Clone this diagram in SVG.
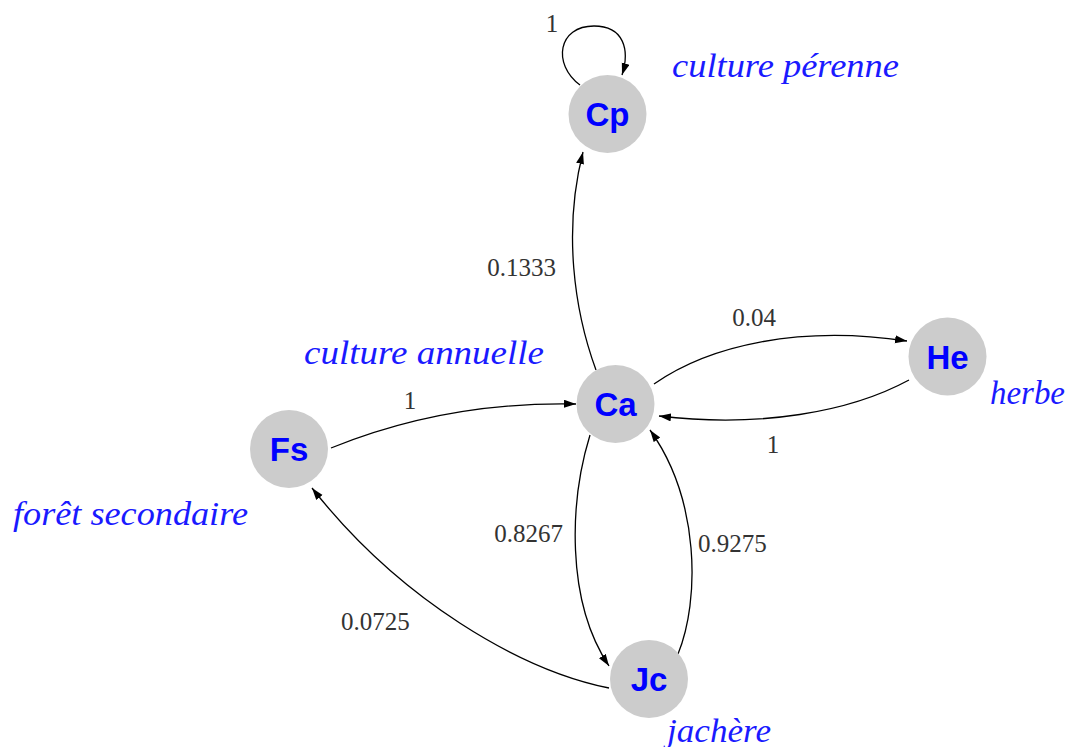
<svg xmlns="http://www.w3.org/2000/svg" width="1068" height="747" viewBox="0 0 1068 747">
<style>
.node circle{fill:#cccccc;stroke:none}
.node text{font-family:"Liberation Sans",Arial,sans-serif;font-weight:bold;font-size:33px;fill:#0000ff;text-anchor:middle}
.edge path{fill:none;stroke:#000;stroke-width:1.3}
.elabel{font-family:"Liberation Serif","Times New Roman",serif;font-size:25px;fill:#333333}
.name{font-family:"Liberation Serif","Times New Roman",serif;font-style:italic;font-size:34px;fill:#1a1aff}
</style>
<defs>
<marker id="arr" markerUnits="userSpaceOnUse" markerWidth="13" markerHeight="9" refX="12" refY="4" orient="auto">
<path d="M0,0 L12,4 L0,8 z" fill="#000"/>
</marker>
</defs>
<rect width="1068" height="747" fill="#ffffff"/>
<g id="connectors" class="edge">
<path d="M580,85 C552,64 558,26 594,26 C624,26 630,50 622,75" marker-end="url(#arr)"/>
<path d="M596,370 C574,310 563,230 583,152" marker-end="url(#arr)"/>
<path d="M331,448 C400,420 480,402 576,404" marker-end="url(#arr)"/>
<path d="M654,384 C710,345 800,325 907,341" marker-end="url(#arr)"/>
<path d="M909,380 C850,412 760,428 659,416" marker-end="url(#arr)"/>
<path d="M590,435 C570,500 565,600 609,666" marker-end="url(#arr)"/>
<path d="M678,654 C700,600 700,500 650,430" marker-end="url(#arr)"/>
<path d="M609,688 C520,670 400,600 312,488" marker-end="url(#arr)"/>
</g>
<g id="edge-labels">
<text class="elabel" x="552" y="32" text-anchor="middle">1</text>
<text class="elabel" x="556" y="276" text-anchor="end">0.1333</text>
<text class="elabel" x="754" y="326" text-anchor="middle">0.04</text>
<text class="elabel" x="773" y="453" text-anchor="middle">1</text>
<text class="elabel" x="410" y="409" text-anchor="middle">1</text>
<text class="elabel" x="563" y="542" text-anchor="end">0.8267</text>
<text class="elabel" x="698" y="552">0.9275</text>
<text class="elabel" x="341" y="630">0.0725</text>
</g>
<g id="node-Cp" class="node"><circle cx="607.5" cy="114" r="39"/><text x="607.5" y="126">Cp</text></g>
<g id="node-Ca" class="node"><circle cx="615.5" cy="404" r="39"/><text x="615.5" y="416">Ca</text></g>
<g id="node-He" class="node"><circle cx="947.5" cy="356.5" r="39"/><text x="947.5" y="368.5">He</text></g>
<g id="node-Fs" class="node"><circle cx="289" cy="449" r="39"/><text x="289" y="461">Fs</text></g>
<g id="node-Jc" class="node"><circle cx="649" cy="679" r="39"/><text x="649" y="691">Jc</text></g>
<g id="names">
<text class="name" x="672" y="77" textLength="227" lengthAdjust="spacingAndGlyphs">culture pérenne</text>
<text class="name" x="304" y="364" textLength="240" lengthAdjust="spacingAndGlyphs">culture annuelle</text>
<text class="name" x="13" y="525" textLength="235" lengthAdjust="spacingAndGlyphs">forêt secondaire</text>
<text class="name" x="990" y="404" textLength="75" lengthAdjust="spacingAndGlyphs">herbe</text>
<text class="name" x="667" y="742" textLength="104" lengthAdjust="spacingAndGlyphs">jachère</text>
</g>
</svg>
